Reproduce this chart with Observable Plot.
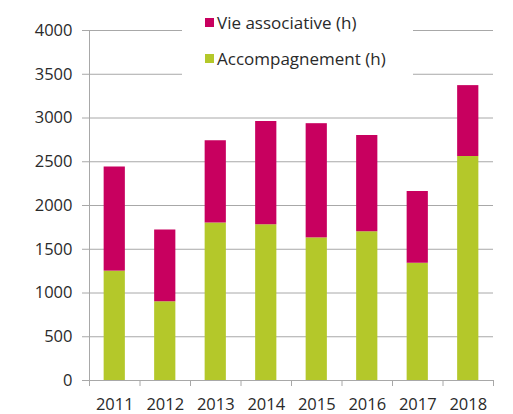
<!DOCTYPE html>
<html><head><meta charset="utf-8">
<script src="https://cdn.jsdelivr.net/npm/d3@7"></script>
<script src="https://cdn.jsdelivr.net/npm/@observablehq/plot@0.6"></script>
<style>
body{margin:0;background:#fff;}
#wrap{position:relative;width:513px;height:414px;font-family:"Open Sans",sans-serif;color:#2a2a2a;}
#legend{position:absolute;left:182px;top:0;width:231px;height:76px;background:#fff;}
.row{position:absolute;left:23px;height:20px;display:flex;align-items:center;font-size:17px;white-space:nowrap;}
.sw{width:9px;height:9px;margin-right:3px;flex:none;}
</style></head><body><div id="wrap"></div>
<script>
const years = ["2011","2012","2013","2014","2015","2016","2017","2018"];
const accompagnement = [1250, 900, 1800, 1780, 1630, 1700, 1340, 2560];
const vieAssociative = [1190, 820, 940, 1180, 1305, 1100, 820, 810];
const seriesNames = ["Vie associative (h)", "Accompagnement (h)"];
const seriesColors = ["#C8005F", "#B4C82A"];
const yTicks = [0, 500, 1000, 1500, 2000, 2500, 3000, 3500, 4000];

const data = [];
years.forEach((y, i) => data.push({year: y, series: seriesNames[1], value: accompagnement[i]}));
years.forEach((y, i) => data.push({year: y, series: seriesNames[0], value: vieAssociative[i]}));

const grid = "#a8a8a8";
function build(step) {
  return Plot.plot({
    width: 513, height: 414,
    marginTop: 30, marginBottom: 34, marginLeft: 89, marginRight: 20,
    style: {fontFamily: "Open Sans, sans-serif", fontSize: "16.5px", color: "#2a2a2a", background: "#fff"},
    x: {domain: years, paddingInner: 0.58, paddingOuter: 0.29, round: false, label: null},
    y: {domain: [0, 4000], label: null},
    color: {domain: seriesNames, range: seriesColors},
    marks: [
      Plot.ruleY(yTicks, {stroke: grid, strokeWidth: 1}),
      Plot.barY(data, {x: "year", y: "value", fill: "series"}),
      Plot.ruleX([years[0]], {y1: 0, y2: 4000, dx: -step / 2, stroke: grid}),
      Plot.axisY({ticks: yTicks, tickSize: 7, tickPadding: 10, stroke: grid, fill: "#2a2a2a", tickFormat: d => String(d)}),
      Plot.axisX({tickSize: 0, tickPadding: 18, fill: "#2a2a2a"}),
      Plot.axisX({tickSize: 6, tickFormat: () => "", dx: -step / 2, stroke: grid}),
      Plot.axisX([years[years.length - 1]], {tickSize: 6, tickFormat: () => "", dx: step / 2, stroke: grid})
    ]
  });
}
const first = build(0);
const step = first.scale("x").step;
const chart = build(step);
const wrap = document.getElementById("wrap");
wrap.appendChild(chart);

const legend = document.createElement("div");
legend.id = "legend";
const tops = [12, 48];
seriesNames.forEach((name, i) => {
  const row = document.createElement("div");
  row.className = "row";
  row.style.top = tops[i] + "px";
  const sw = document.createElement("span");
  sw.className = "sw";
  sw.style.background = seriesColors[i];
  const t = document.createElement("span");
  t.textContent = name;
  row.appendChild(sw); row.appendChild(t);
  legend.appendChild(row);
});
wrap.appendChild(legend);
</script>
</body></html>
